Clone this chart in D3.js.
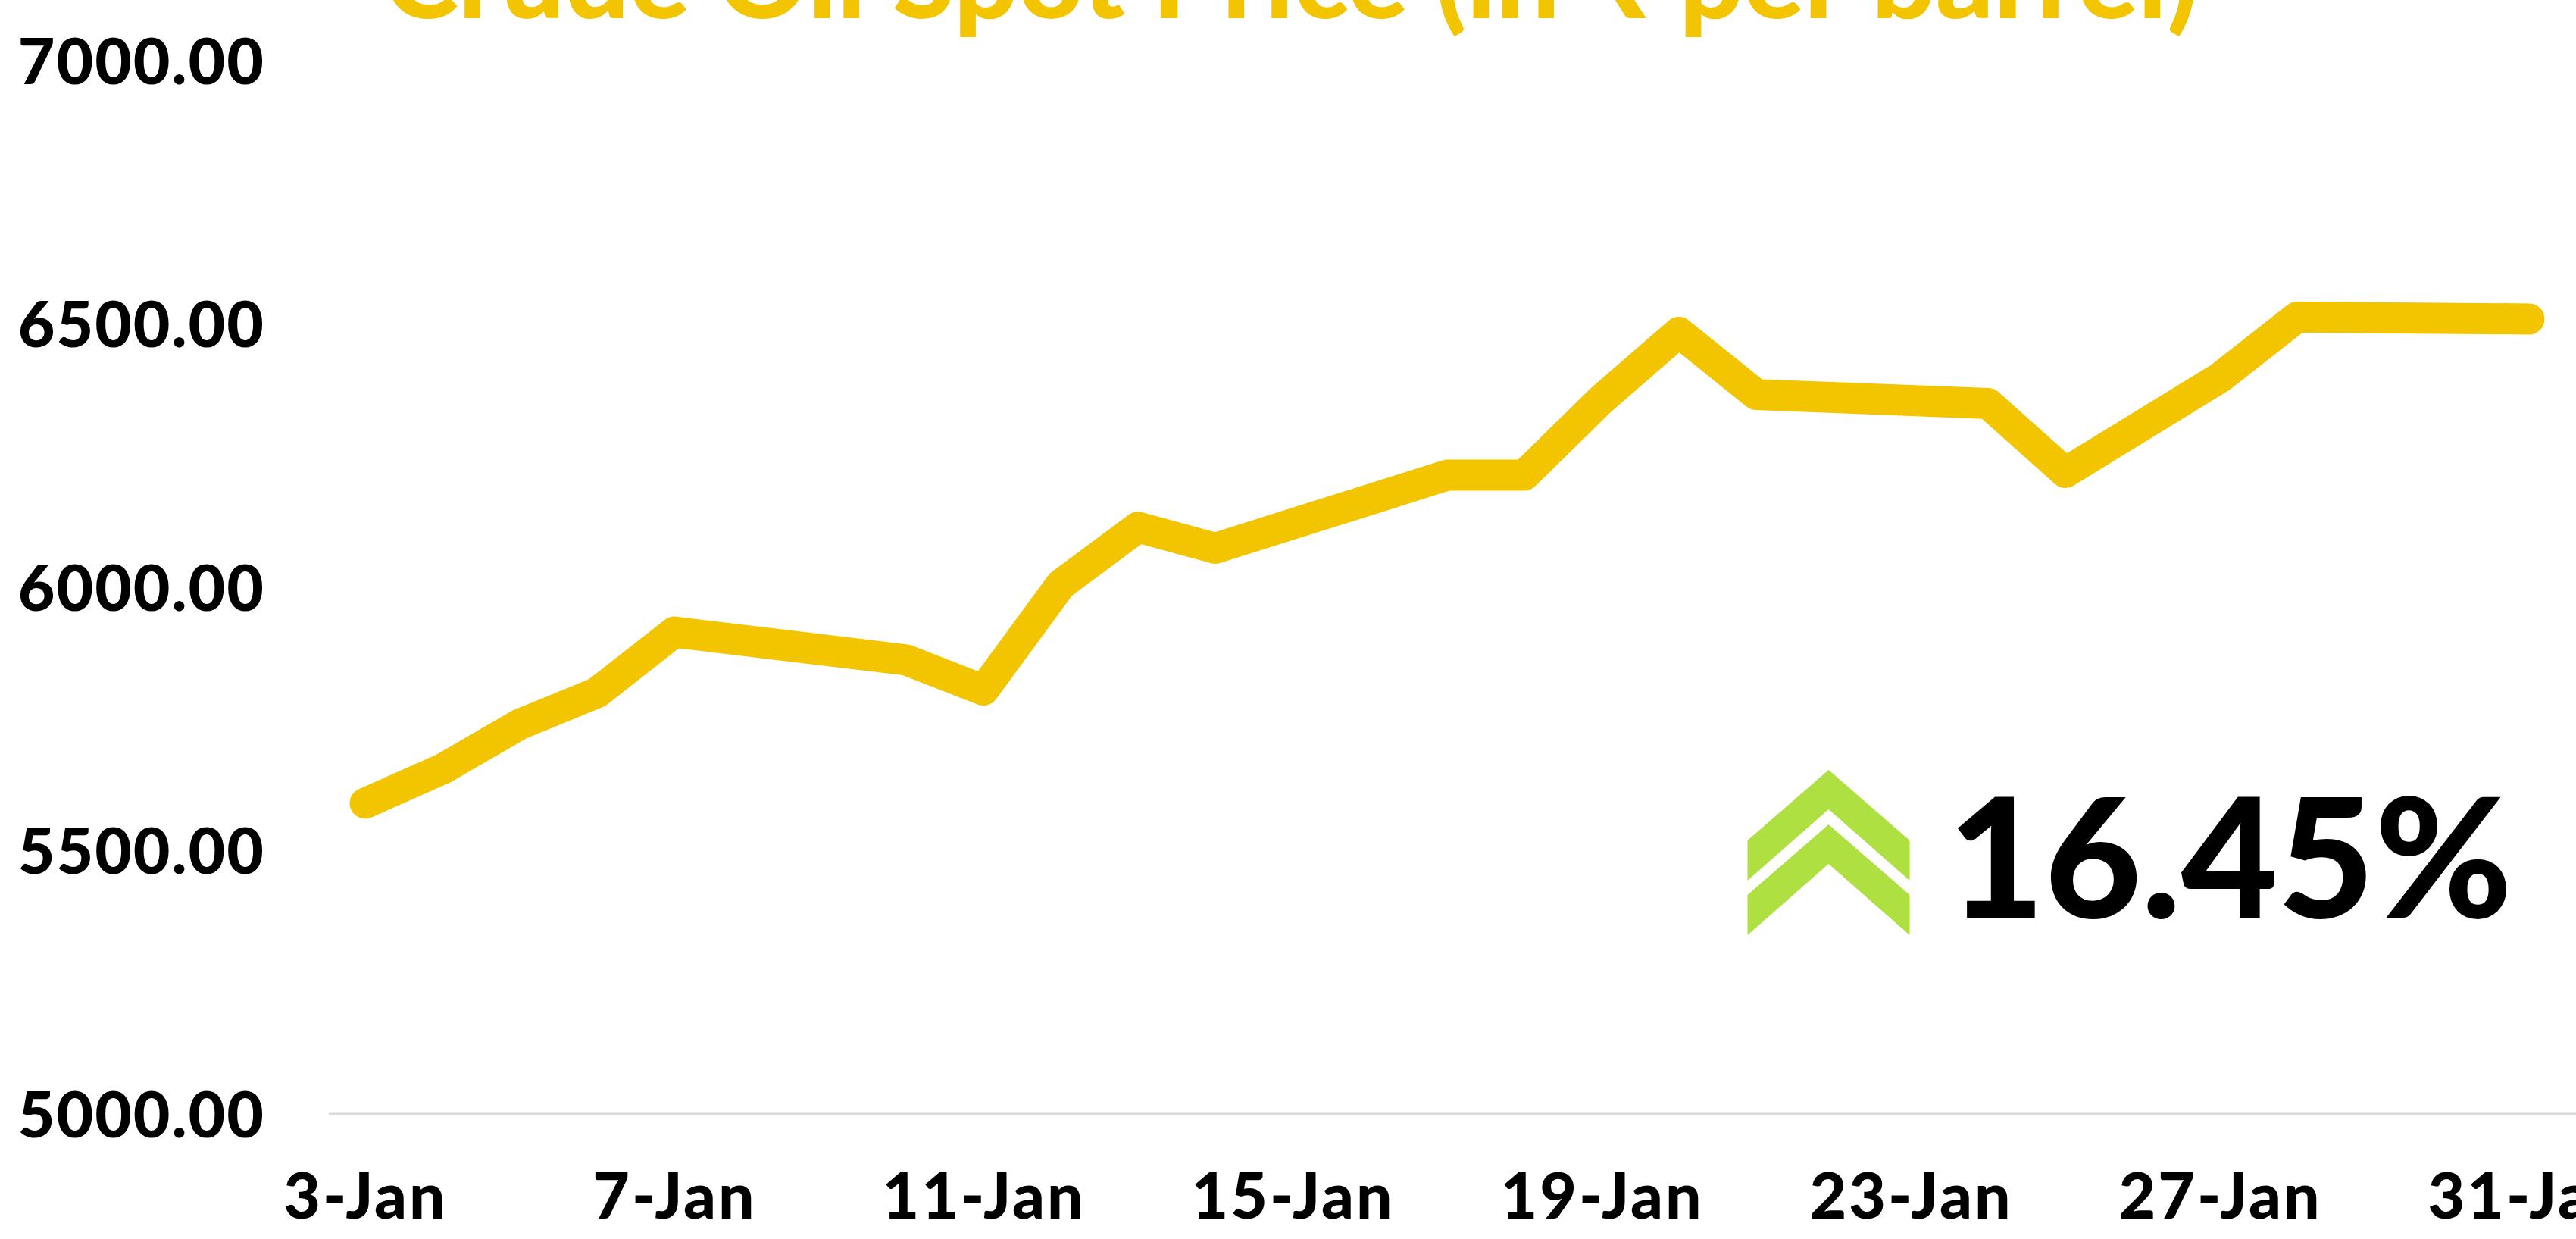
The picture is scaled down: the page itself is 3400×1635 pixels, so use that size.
<!DOCTYPE html>
<html>
<head>
<meta charset="utf-8">
<script src="https://cdn.jsdelivr.net/npm/d3@7"></script>
<style>
  html, body { margin: 0; padding: 0; background: #ffffff; overflow: hidden; }
  svg { display: block; }
  text { font-family: Lato, "Noto Sans", "DejaVu Sans", sans-serif; font-weight: 900; }
</style>
</head>
<body>
<svg id="chart" width="3400" height="1635"></svg>
<script>
// Trading days of January 2022 and the closing spot price on each
const dates = ["3-Jan", "4-Jan", "5-Jan", "6-Jan", "7-Jan", "10-Jan", "11-Jan", "12-Jan", "13-Jan", "14-Jan",
               "17-Jan", "18-Jan", "19-Jan", "20-Jan", "21-Jan", "24-Jan", "25-Jan", "27-Jan", "28-Jan", "31-Jan"];
const prices = [5590, 5655, 5740, 5800, 5915, 5862, 5805, 6005, 6114, 6074,
                6213, 6213, 6357, 6484, 6366, 6349, 6218, 6398, 6513, 6509.5];

// Axis ticks
const yTicks = [5000, 5500, 6000, 6500, 7000];
const xTickLabels = ["3-Jan", "7-Jan", "11-Jan", "15-Jan", "19-Jan", "23-Jan", "27-Jan", "31-Jan"];

// Title
const titleText = "Crude Oil Spot Price (in \u20B9 per barrel)";

const parseDay = s => d3.timeParse("%d-%b-%Y")(s + "-2022");
const data = dates.map((d, i) => ({ date: parseDay(d), price: prices[i] }));

// Change over the month, first close to last close
const change = prices[prices.length - 1] / prices[0] - 1;
const changeText = d3.format(".2%")(change);

const svg = d3.select("#chart");
const W = 3400;

const lineColor = "#F2C500";
const arrowColor = "#ADE040";

const x = d3.scaleTime()
  .domain([parseDay("3-Jan"), parseDay("31-Jan")])
  .range([482, 3338]);

const y = d3.scaleLinear()
  .domain([5000, 7000])
  .range([1470, 80]);

// Title (sits partly above the top edge)
const title = svg.append("text")
  .attr("x", 1704)
  .attr("y", 24)
  .attr("text-anchor", "middle")
  .attr("fill", lineColor)
  .style("font-size", "125px")
  .text(titleText);
{
  const w = title.node().getComputedTextLength();
  title.style("font-size", (125 * 2395 / w) + "px");
}

// Category axis baseline
svg.append("line")
  .attr("x1", 434).attr("x2", W)
  .attr("y1", y(5000)).attr("y2", y(5000))
  .attr("stroke", "#D9D9D9")
  .attr("stroke-width", 3);

// Value axis labels
const yAxis = d3.axisLeft(y)
  .tickValues(yTicks)
  .tickFormat(d3.format(".2f"))
  .tickSize(0)
  .tickPadding(0);
const gy = svg.append("g")
  .attr("transform", "translate(350,0)")
  .call(yAxis);
gy.select(".domain").remove();
gy.selectAll("text")
  .attr("fill", "#000")
  .attr("dy", "0.36em")
  .style("font-size", "84px")
  .style("font-family", "Lato, 'Noto Sans', sans-serif")
  .style("font-weight", 900)
  .style("letter-spacing", "2px");

// Date axis labels
const xAxis = d3.axisBottom(x)
  .tickValues(xTickLabels.map(parseDay))
  .tickFormat(d3.timeFormat("%-d-%b"))
  .tickSize(0)
  .tickPadding(0);
const gx = svg.append("g")
  .attr("transform", `translate(0,${y(5000)})`)
  .call(xAxis);
gx.select(".domain").remove();
gx.selectAll("text")
  .attr("fill", "#000")
  .attr("y", 138)
  .attr("dy", 0)
  .style("font-size", "84px")
  .style("font-family", "Lato, 'Noto Sans', sans-serif")
  .style("font-weight", 900)
  .style("letter-spacing", "3px");

// Price line
const line = d3.line()
  .x(d => x(d.date))
  .y(d => y(d.price));

svg.append("path")
  .datum(data)
  .attr("d", line)
  .attr("fill", "none")
  .attr("stroke", lineColor)
  .attr("stroke-width", 41)
  .attr("stroke-linecap", "round")
  .attr("stroke-linejoin", "round");

// Double chevron marking the monthly rise
function chevron(cx, top, halfW, shoulder, side, notch) {
  return [
    [cx, top],
    [cx + halfW, top + shoulder],
    [cx + halfW, top + shoulder + side],
    [cx, top + notch],
    [cx - halfW, top + shoulder + side],
    [cx - halfW, top + shoulder]
  ];
}
const arrowG = svg.append("g").attr("fill", arrowColor);
[1016, 1088].forEach(top => {
  arrowG.append("polygon")
    .attr("points", chevron(2413.5, top, 107, 93, 53, 52).map(p => p.join(",")).join(" "));
});

// Percentage change label
const pct = svg.append("text")
  .attr("x", 2571)
  .attr("y", 1211)
  .attr("fill", "#000")
  .style("font-size", "203px")
  .text(changeText);
{
  const w = pct.node().getComputedTextLength();
  pct.style("font-size", (203 * 745 / w) + "px");
}
</script>
</body>
</html>
